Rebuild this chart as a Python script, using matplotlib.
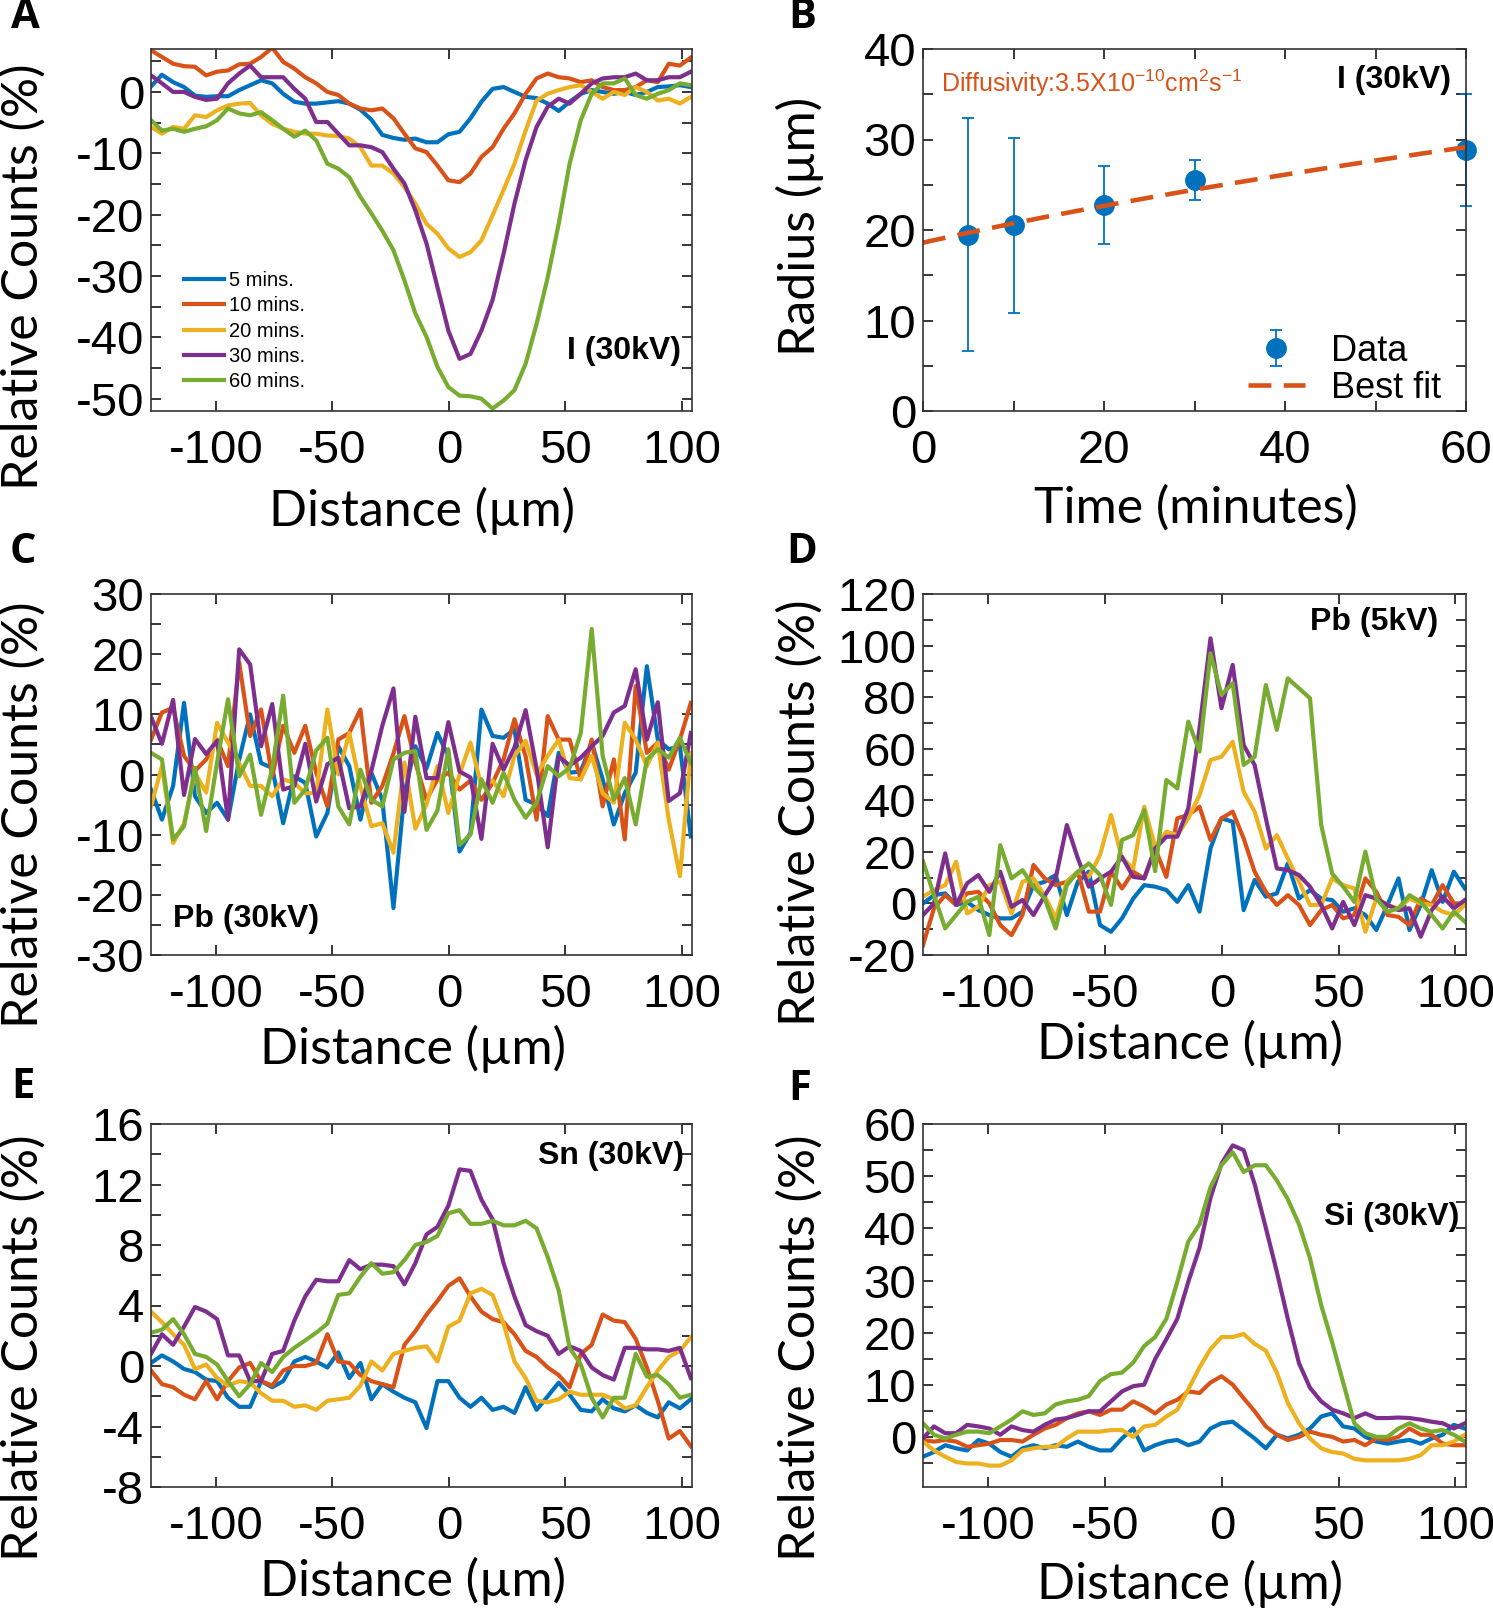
import numpy as np
import matplotlib.pyplot as plt
from matplotlib.ticker import MultipleLocator

# distance grid shared by all line scans (um)
distance = [-128.0, -123.3, -118.5, -113.8, -109.1, -104.3, -99.6, -94.9, -90.1, -85.4,
            -80.7, -75.9, -71.2, -66.4, -61.7, -57.0, -52.2, -47.5, -42.8, -38.0,
            -33.3, -28.6, -23.8, -19.1, -14.4, -9.6, -4.9, -0.2, 4.6, 9.3,
            14.0, 18.8, 23.5, 28.2, 33.0, 37.7, 42.5, 47.2, 51.9, 56.7,
            61.4, 66.1, 70.9, 75.6, 80.3, 85.1, 89.8, 94.5, 99.3, 104.0]

times = ['5 mins.', '10 mins.', '20 mins.', '30 mins.', '60 mins.']

# A: I (30kV)
a_05 = [0.9, 2.8, 1.6, 0.8, -0.6, -0.8, -0.7, -0.7, 0.3, 1.1,
        1.9, 1.4, -0.3, -1.6, -1.9, -1.9, -1.7, -1.5, -1.9, -2.9,
        -4.5, -7.0, -7.5, -7.8, -7.6, -8.2, -8.2, -6.9, -6.5, -4.3,
        -1.6, 0.5, 0.8, 0.0, -0.8, -1.0, -1.9, -3.1, -1.6, -0.3,
        0.3, 0.0, -0.3, 0.0, -0.5, 0.0, 0.8, 0.9, 1.1, 0.8]
a_10 = [6.8, 5.7, 4.6, 4.2, 4.1, 2.7, 3.3, 3.5, 4.5, 4.6,
        5.7, 7.2, 4.9, 3.8, 2.4, 1.4, 0.0, -0.5, -1.9, -2.7,
        -3.0, -2.7, -4.3, -6.8, -9.2, -9.8, -12.0, -14.4, -14.7, -13.3,
        -10.6, -9.0, -6.0, -3.5, -0.3, 2.2, 3.0, 2.4, 2.2, 1.6,
        1.9, 0.8, 0.3, 0.3, 0.8, 1.9, 1.6, 4.6, 4.3, 5.6]
a_20 = [-5.7, -6.8, -5.7, -6.0, -3.8, -4.1, -3.0, -2.2, -1.9, -1.8,
        -3.8, -5.2, -6.0, -6.5, -6.8, -6.8, -7.1, -7.2, -7.6, -9.0,
        -12.0, -12.0, -13.3, -15.5, -18.2, -21.5, -23.1, -25.5, -26.9, -26.1,
        -24.2, -20.1, -16.0, -11.7, -6.3, -1.4, -0.3, 0.3, 0.8, 1.1,
        0.0, -1.1, 0.0, -0.5, 0.8, 0.0, -1.4, -1.1, -1.9, -0.8]
a_30 = [2.7, 1.4, 0.0, 0.0, -0.8, -1.3, -1.1, 1.4, 3.0, 4.3,
        2.4, 2.4, 2.4, 0.5, -1.1, -4.9, -4.9, -6.8, -8.7, -8.7,
        -9.0, -9.8, -12.5, -14.9, -19.3, -24.7, -31.8, -38.9, -43.5, -42.7,
        -38.9, -33.9, -26.4, -18.2, -11.1, -5.7, -2.4, -1.1, -1.9, -0.3,
        1.4, 2.2, 2.4, 2.4, 3.0, 1.9, 1.9, 2.4, 2.4, 3.3]
a_60 = [-4.6, -6.3, -6.0, -6.5, -6.0, -5.6, -4.6, -2.7, -3.5, -3.8,
        -3.3, -4.6, -6.0, -7.3, -6.3, -7.9, -11.7, -12.5, -13.9, -17.1,
        -19.8, -22.6, -25.8, -30.7, -36.1, -39.9, -44.8, -48.1, -49.5, -49.6,
        -50.0, -51.6, -50.3, -48.6, -44.3, -37.8, -30.2, -21.5, -11.7, -4.6,
        -0.3, 1.4, 1.4, 2.2, -0.5, -1.1, -0.3, 0.3, 1.4, 1.1]

# B: radius vs time
time_min = [5, 10, 20, 30, 60]
radius = [19.5, 20.5, 22.8, 25.5, 28.8]
radius_err = [12.9, 9.7, 4.3, 2.2, 6.2]
r0_fit = 18.6          # um
diffusivity = 3.5e-10  # cm^2/s

# C: Pb (30kV)
c_05 = [-2.5, -7.5, -1.9, 11.9, -3.6, -6.4, -4.7, -7.5, 2.5, 10.0,
        1.9, 1.1, -8.1, -0.3, -1.4, -10.3, -6.4, 4.7, 1.4, -7.5,
        0.3, -4.2, -22.2, -3.1, 4.7, 1.0, 6.9, 3.0, -12.8, -9.7,
        10.8, 6.4, 6.1, 7.5, -4.2, -5.0, -6.9, 3.6, 0.3, 0.5,
        5.3, -0.8, -8.3, -3.1, 0.3, 18.0, 5.8, 4.2, 4.7, -10.3]
c_10 = [5.8, 10.3, 11.1, 3.1, 0.6, 2.5, 5.8, 1.4, 18.6, 6.4,
        10.8, -0.3, 8.1, 3.6, 8.1, 0.3, -5.3, 5.8, 6.9, 10.8,
        -4.7, -1.9, 3.5, 9.7, 2.0, -4.2, -0.8, 0.3, -2.5, -1.0,
        -4.2, -1.4, 2.5, 9.2, 3.0, -7.5, 9.7, 5.8, 5.8, -0.8,
        5.8, -5.3, 2.5, -10.8, 14.7, 3.6, 5.3, 0.8, 5.8, 11.9]
c_20 = [-5.3, 1.4, -11.4, -8.1, 0.3, -3.0, 8.6, 5.3, 1.9, -1.9,
        -1.9, -3.6, -0.8, -1.4, -3.1, -3.1, 10.8, 0.0, 6.9, -2.0,
        -8.6, -8.1, -13.0, 2.0, -9.0, -5.0, 1.4, -6.4, 0.0, 5.3,
        -2.0, -1.0, -3.6, 3.1, 5.6, 0.0, 3.1, 5.8, -0.6, -0.8,
        3.1, -3.1, -4.7, 8.6, 5.8, 1.4, 5.3, -7.5, -16.9, 3.6]
c_30 = [9.6, 5.1, 12.4, -3.4, 5.9, 3.4, 5.6, -7.5, 20.8, 18.3,
        4.7, 11.7, -2.5, -1.9, 5.1, -4.5, 1.7, 2.8, -5.6, -5.3,
        0.6, 8.1, 14.3, -6.2, 9.6, -0.6, -0.6, 8.7, 0.5, -0.5,
        -10.7, 5.1, 0.8, 4.5, 10.7, 1.0, -12.1, 3.0, 1.5, 2.8,
        4.7, 6.4, 10.3, 11.4, 17.5, 5.8, 12.0, -4.4, -3.1, 6.9]
c_60 = [3.6, 2.5, -10.8, -8.6, 1.1, -9.4, 2.0, 12.5, -0.3, 3.3,
        -6.7, 1.0, 13.1, -4.7, -2.5, 4.0, 6.1, -5.3, -8.3, 0.8,
        -4.2, -5.3, 2.5, 3.6, 3.9, -9.2, -6.0, 4.2, -11.7, -10.0,
        -0.8, -4.7, 0.3, -4.2, -7.2, -4.7, 1.4, -0.3, 1.1, 6.9,
        24.2, 3.1, -4.2, -0.6, -8.3, 2.5, 4.2, 2.8, 6.1, 1.9]

# D: Pb (5kV)
d_05 = [0.0, 3.2, 3.9, -0.6, 0.6, -2.6, -4.5, -5.8, -5.8, -3.2,
        7.1, 8.4, 11.0, -4.5, 8.4, 12.3, -8.4, -11.0, -5.8, 1.9,
        7.1, 6.5, 5.2, 0.6, 7.1, -3.2, 21.3, 33.0, 31.7, -2.6,
        9.1, 2.6, 3.9, 15.5, 1.9, 5.2, 1.9, 1.3, -3.2, -1.9,
        -4.5, -10.3, -0.6, 9.7, -10.3, -0.6, 12.9, 0.6, 12.3, 5.8]
d_10 = [-16.2, -1.9, 3.2, -0.6, 3.9, 4.5, 0.0, -8.4, -12.3, -4.5,
        14.9, 9.7, 7.1, 8.4, 12.3, -3.2, -3.2, 12.3, 5.8, 12.3,
        9.7, 21.3, 10.3, 33.0, 34.3, 37.5, 24.6, 33.0, 35.6, 25.2,
        12.3, 4.5, -0.6, 3.2, -0.6, -8.4, -2.6, -0.6, -5.8, -4.5,
        9.7, 4.5, -4.5, -5.2, -8.4, 1.9, -0.6, 7.1, 0.0, 0.0]
d_20 = [2.6, 5.2, 7.1, 16.2, -3.9, -1.3, 7.1, 8.4, -3.9, 8.4,
        9.7, 3.0, -5.8, 8.4, 12.3, 10.3, 18.8, 34.3, 17.5, 13.6,
        37.5, 22.0, 27.8, 26.5, 33.0, 42.0, 55.6, 56.9, 62.7, 43.3,
        35.6, 21.3, 26.5, 17.5, 8.4, -0.6, -0.6, 9.7, 7.1, 5.8,
        -11.0, 1.9, -0.6, -2.0, 1.9, 0.0, -0.6, -3.2, -4.5, -0.6]
d_30 = [-4.5, 0.0, 19.4, -0.6, 7.8, 11.0, 4.5, 12.3, -1.3, 1.3,
        -4.5, 3.0, 9.7, 30.4, 17.5, 6.5, 9.7, 12.3, 18.1, 10.3,
        9.7, 21.3, 25.9, 25.9, 36.9, 67.9, 102.8, 75.7, 92.5, 61.4,
        53.7, 33.0, 13.6, 12.9, 11.0, 6.5, -0.6, -9.7, 0.6, -8.4,
        3.2, 1.9, -0.6, -2.6, -1.9, -12.9, -2.6, 2.6, -1.9, 1.3]
d_60 = [16.4, 3.2, -9.7, -4.5, 0.6, 2.6, -12.3, 22.6, 9.7, 12.9,
        6.5, 1.9, -9.7, 7.1, 12.3, 15.5, 11.0, -0.6, 24.6, 26.5,
        36.2, 12.5, 47.9, 44.6, 70.5, 58.9, 97.0, 80.9, 85.4, 53.7,
        56.9, 84.7, 67.3, 87.3, 83.4, 79.6, 30.4, 11.6, 6.5, 0.6,
        20.1, 1.9, -3.2, -1.9, 3.2, 0.6, -4.5, -9.7, -3.2, -7.1]

# E: Sn (30kV)
e_05 = [0.2, 0.7, 0.3, -0.2, -0.4, -0.9, -1.0, -2.1, -2.7, -2.7,
        -1.0, -1.4, -1.0, 0.3, 0.6, 0.3, -0.1, 0.9, -0.8, 0.2,
        -2.2, -1.2, -1.7, -2.1, -2.4, -4.1, -1.0, -1.0, -2.1, -2.7,
        -2.1, -2.9, -2.7, -3.1, -1.4, -2.9, -2.0, -1.1, -1.9, -2.9,
        -3.0, -2.2, -2.8, -3.0, -2.6, -3.1, -3.4, -2.4, -2.8, -2.2]
e_10 = [-0.3, -1.2, -1.4, -1.9, -2.2, -1.0, -2.2, -1.0, -0.1, 0.2,
        -1.0, -1.3, -0.3, 0.0, 0.0, 0.2, 2.1, 0.3, 0.2, -0.6,
        -1.0, -1.2, -1.4, 1.4, 2.3, 3.4, 4.3, 5.3, 5.8, 4.6,
        3.6, 3.1, 2.9, 2.1, 1.0, 0.6, -0.1, -0.6, -1.4, 0.8,
        1.4, 3.4, 3.0, 2.9, 1.8, -0.1, -2.3, -4.8, -4.3, -5.3]
e_20 = [3.6, 2.9, 2.1, 1.4, -0.2, 0.1, -0.8, -1.3, -1.0, -1.1,
        -1.8, -2.3, -2.3, -2.7, -2.6, -2.9, -2.3, -2.2, -2.1, -1.3,
        0.3, -0.3, 0.8, 1.0, 1.2, 1.3, 0.3, 2.6, 3.0, 4.8,
        5.1, 4.7, 2.8, 0.3, -0.8, -2.3, -2.4, -2.2, -1.7, -1.9,
        -1.9, -1.9, -2.2, -2.8, -2.6, -1.4, -0.3, 0.6, 1.0, 1.9]
e_30 = [0.8, 2.1, 1.4, 2.6, 3.9, 3.6, 3.1, 0.7, 0.7, -1.0,
        -1.0, 0.8, 1.0, 3.0, 4.6, 5.7, 5.6, 5.6, 7.0, 6.4,
        6.7, 6.7, 6.6, 5.4, 6.8, 8.7, 9.2, 10.6, 13.0, 12.9,
        11.0, 9.7, 6.8, 4.6, 2.7, 2.3, 2.0, 0.8, 1.3, 1.0,
        -0.1, -0.6, -0.9, 1.2, 1.2, 1.1, 1.1, 1.0, 1.2, -0.8]
e_60 = [2.2, 2.4, 3.1, 2.1, 0.8, 0.6, 0.1, -1.0, -2.0, -1.2,
        0.2, -0.4, 0.6, 1.2, 1.7, 2.2, 2.8, 4.7, 4.8, 5.9,
        6.8, 6.1, 6.2, 7.0, 8.0, 8.2, 8.6, 10.1, 10.3, 9.4,
        9.4, 9.6, 9.3, 9.3, 9.6, 9.1, 7.2, 5.0, 1.2, 0.1,
        -2.1, -3.4, -2.1, -2.1, 0.8, -0.7, -0.6, -1.2, -2.1, -1.9]

# F: Si (30kV)
f_05 = [-3.7, -2.8, -1.5, -2.1, -2.5, -0.5, -1.2, -2.8, -3.7, -2.1,
        -1.5, -2.1, -1.5, -1.8, -0.8, -1.8, -2.5, -2.5, -0.2, 1.7,
        -2.5, -1.5, -0.8, -0.5, -1.5, -0.8, 1.7, 2.7, 3.0, 1.4,
        -0.2, -2.1, 0.5, -0.2, 0.5, 1.7, 4.0, 4.6, 2.1, 1.7,
        0.1, -0.8, -1.2, -0.8, -0.5, -1.2, -0.2, 0.5, 2.4, 1.7]
f_10 = [-0.5, -0.8, -0.5, -0.8, -1.8, -1.5, -1.2, -0.5, -0.5, -0.8,
        0.5, 1.7, 2.4, 3.7, 4.6, 5.0, 4.3, 5.3, 5.3, 6.9,
        5.9, 4.6, 6.3, 7.2, 8.8, 8.5, 10.5, 11.7, 10.1, 7.5,
        5.0, 2.1, 0.5, -0.5, 0.1, 1.1, 0.5, 0.1, -0.8, -0.5,
        -1.5, -0.2, -0.5, 0.1, 1.7, 0.5, 0.5, -1.2, -1.5, -1.5]
f_20 = [-0.8, -2.5, -3.7, -4.7, -5.0, -5.0, -5.4, -5.4, -4.4, -2.5,
        -2.1, -1.8, -1.8, -0.2, 1.1, 1.1, 1.1, 1.4, 1.4, 0.1,
        2.1, 2.4, 4.0, 5.3, 9.2, 13.4, 16.9, 19.2, 19.2, 19.8,
        17.9, 16.6, 12.4, 6.6, 2.7, -0.2, -2.1, -2.8, -3.1, -4.1,
        -4.4, -4.4, -4.4, -4.4, -4.1, -3.4, -1.5, -1.5, -0.8, 0.5]
f_30 = [-0.2, 2.1, 0.8, 0.8, 2.4, 2.1, 1.7, 0.5, 2.1, 1.4,
        1.1, 2.4, 3.4, 3.7, 4.3, 5.0, 5.0, 6.9, 8.8, 9.8,
        10.1, 15.0, 18.8, 22.7, 29.8, 36.3, 45.9, 52.4, 55.9, 55.0,
        48.5, 40.1, 31.7, 22.7, 14.2, 9.5, 6.9, 5.3, 4.6, 3.7,
        4.6, 3.7, 3.7, 3.8, 3.7, 3.4, 3.0, 2.7, 1.7, 2.7]
f_60 = [2.7, 0.5, -0.2, 0.5, 1.1, 1.1, 0.8, 2.1, 3.4, 5.0,
        4.3, 4.6, 6.3, 6.9, 7.2, 7.9, 10.8, 12.1, 12.4, 14.3,
        17.5, 19.2, 22.7, 29.8, 37.5, 40.8, 47.9, 52.1, 54.6, 50.8,
        52.1, 52.1, 49.2, 45.6, 40.8, 34.3, 25.3, 18.2, 10.5, 2.7,
        0.8, 0.1, 0.1, 1.7, 2.7, 1.7, 1.1, 1.4, 0.5, -0.8]

colors = ['#0072BD', '#D95319', '#EDB120', '#7E2F8E', '#77AC30']
NARROW = ['Liberation Sans Narrow', 'Liberation Sans', 'DejaVu Sans']
ROUND = ['Lato', 'DejaVu Sans']

plt.rcParams['font.family'] = NARROW
plt.rcParams['axes.unicode_minus'] = False
plt.rcParams['axes.linewidth'] = 1.2
plt.rcParams['axes.edgecolor'] = '#333333'
plt.rcParams['mathtext.fontset'] = 'custom'
plt.rcParams['mathtext.rm'] = 'Liberation Sans'

W, H = 1493, 1613
fig = plt.figure(figsize=(W / 100, H / 100), dpi=100)


def add_axes(left, top, right, bottom):
    return fig.add_axes([left / W, 1 - bottom / H, (right - left) / W, (bottom - top) / H])


def style(ax, ylim, ymaj, ymin):
    ax.set_ylim(*ylim)
    ax.yaxis.set_major_locator(MultipleLocator(ymaj))
    ax.yaxis.set_minor_locator(MultipleLocator(ymin))
    ax.tick_params(which='both', direction='in', top=True, right=True,
                   length=7, width=1.1, labelsize=34)
    ax.tick_params(axis='x', pad=13)
    ax.tick_params(axis='y', pad=5)


def profile(ax, series, ylim, ymaj, ymin):
    for vals, c, lab in zip(series, colors, times):
        ax.plot(distance, vals, color=c, lw=3, label=lab)
    ax.set_xlim(-128, 104.5)
    ax.set_xticks([-100, -50, 0, 50, 100])
    ax.xaxis.set_minor_locator(plt.NullLocator())
    style(ax, ylim, ymaj, ymin)


axA = add_axes(151, 49, 692, 411)
axB = add_axes(923, 49, 1466, 411)
axC = add_axes(151, 594, 692, 955)
axD = add_axes(923, 594, 1466, 955)
axE = add_axes(151, 1124, 692, 1487)
axF = add_axes(923, 1124, 1466, 1487)

profile(axA, [a_05, a_10, a_20, a_30, a_60], (-52, 7), 10, 5)
profile(axC, [c_05, c_10, c_20, c_30, c_60], (-30, 30), 10, 5)
profile(axD, [d_05, d_10, d_20, d_30, d_60], (-20, 120), 20, 10)
profile(axE, [e_05, e_10, e_20, e_30, e_60], (-8, 16), 4, 2)
profile(axF, [f_05, f_10, f_20, f_30, f_60], (-9.5, 60), 10, 5)

axA.legend(loc='lower left', bbox_to_anchor=(0.035, 0.015), frameon=False,
           prop={'family': ['Liberation Sans', 'DejaVu Sans'], 'size': 14.5},
           handlelength=2.0, handletextpad=0.25, labelspacing=0.32, borderpad=0.2)

# B: diffusion radius
eb = axB.errorbar(time_min, radius, yerr=radius_err, fmt='o', color='#0072BD', ms=14,
                  elinewidth=1.3, capsize=4, capthick=1.3, label='Data', zorder=3)
for art in eb.get_children():
    art.set_clip_on(False)
t_fit = np.linspace(0, 60, 200)
r_fit = np.sqrt(r0_fit ** 2 + 4 * diffusivity * 1e8 * t_fit * 60)
fit_line, = axB.plot(t_fit, r_fit, color='#D95319', lw=3.3, dashes=(5, 2.7),
                     label='Best fit', zorder=4)
axB.set_xlim(0, 60)
axB.xaxis.set_major_locator(MultipleLocator(20))
axB.xaxis.set_minor_locator(MultipleLocator(10))
style(axB, (0, 40), 10, 5)
for sp in axB.spines.values():
    sp.set_zorder(5)
axB.legend([eb, fit_line], ['Data', 'Best fit'], loc='lower right',
           bbox_to_anchor=(1.0, -0.055), frameon=False, fontsize=26,
           handlelength=1.6, handletextpad=0.7, labelspacing=0.05, borderpad=0.2)
axB.text(0.033, 0.905,
         r'Diffusivity:3.5X10$\mathregular{^{-10}}$cm$\mathregular{^{2}}$s$\mathregular{^{-1}}$',
         transform=axB.transAxes, color='#D95319', fontsize=18, va='center', ha='left')

tag = dict(fontsize=23, fontweight='bold', va='center')
axA.text(0.98, 0.166, 'I (30kV)', transform=axA.transAxes, ha='right', **tag)
axB.text(0.972, 0.914, 'I (30kV)', transform=axB.transAxes, ha='right', **tag)
axC.text(0.04, 0.10, 'Pb (30kV)', transform=axC.transAxes, ha='left', **tag)
axD.text(0.948, 0.922, 'Pb (5kV)', transform=axD.transAxes, ha='right', **tag)
axE.text(0.985, 0.912, 'Sn (30kV)', transform=axE.transAxes, ha='right', **tag)
axF.text(0.987, 0.744, 'Si (30kV)', transform=axF.transAxes, ha='right', **tag)

# axis titles placed like the original figure
lab = dict(fontsize=36, family=ROUND, ha='center', va='center')
for (x, y) in [(23, 277), (23, 815), (23, 1348), (800, 813), (800, 1348)]:
    fig.text(x / W, 1 - y / H, 'Relative Counts (%)', rotation=90, **lab)
fig.text(800 / W, 1 - 226 / H, 'Radius (\u00b5m)', rotation=90, **lab)
for (x, y) in [(422, 511), (413, 1049), (1190, 1044), (413, 1581), (1190, 1584)]:
    fig.text(x / W, 1 - y / H, 'Distance (\u00b5m)', **lab)
fig.text(1196 / W, 1 - 508 / H, 'Time (minutes)', **lab)

letters = ['A', 'B', 'C', 'D', 'E', 'F']
letter_pos = [(25, 18), (802, 18), (23, 553), (802, 553), (23, 1088), (800, 1090)]
for l, (x, y) in zip(letters, letter_pos):
    fig.text(x / W, 1 - y / H, l, fontsize=30, fontweight='bold',
             family=['Open Sans', 'DejaVu Sans'], ha='center', va='center')

fig.savefig('out.png', dpi=100)
